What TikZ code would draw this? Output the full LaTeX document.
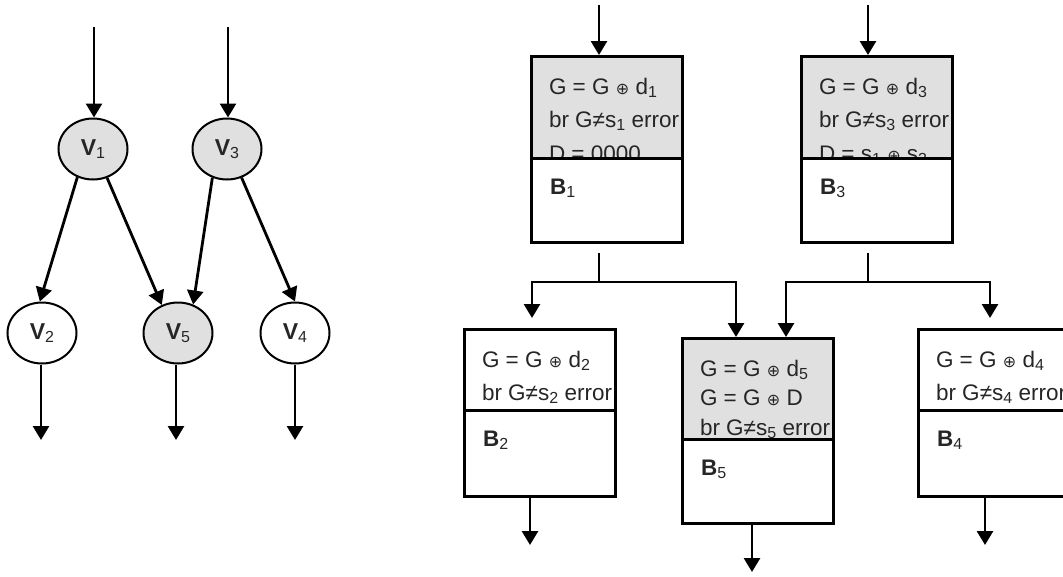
\documentclass[tikz,border=0pt]{standalone}
\usepackage{fontspec}
\setmainfont{Liberation Sans}
\newfontfamily\symf{DejaVu Sans}
\usetikzlibrary{shapes.geometric,arrows.meta,positioning}

\newcommand{\lo}[1]{\raisebox{-3pt}{\fontsize{16}{16}\selectfont\mdseries #1}}
\newcommand{\xo}{{\symf\fontsize{16}{16}\selectfont ⊕}}

\tikzset{
  vert/.style={ellipse, draw, line width=2pt, minimum width=69pt, minimum height=61pt, inner sep=0pt, text=black!85, font=\fontsize{23}{23}\selectfont\bfseries},
  used/.style={fill=black!12},
  arr/.style={line width=2.8pt, -{Triangle[width=16pt,length=14pt]}},
  wire/.style={line width=2.8pt},
  stmt/.style={draw, line width=3pt, anchor=north west, minimum width=151pt, minimum height=#1, inner sep=0pt},
  txt/.style={draw=none, fill=none, minimum width=0pt, minimum height=0pt, inner sep=0pt, text=black!85},
  stmts/.style={path picture={\node[txt, anchor=north west, align=left, font=\fontsize{22.5}{33.5}\selectfont] at ([xshift=16pt,yshift=-20pt]path picture bounding box.north west) {#1};}},
  bname/.style={path picture={\node[txt, anchor=base west, font=\fontsize{22.5}{22.5}\selectfont\bfseries] at ([xshift=17pt,yshift=-36pt]path picture bounding box.north west) {#1};}},
}

\begin{document}
\begin{tikzpicture}[x=1pt,y=-1pt]
\useasboundingbox (0,0) rectangle (1063,576);
% graph
\node[vert, used] (V1) at (93,149) {V\lo{1}};
\node[vert, used] (V3) at (227,149) {V\lo{3}};
\node[vert] (V2) at (42,333) {V\lo{2}};
\node[vert, used] (V5) at (178,333) {V\lo{5}};
\node[vert] (V4) at (295,333) {V\lo{4}};
\coordinate (i1) at (94,27);
\coordinate (i3) at (228,27);
\coordinate (o2) at (41,440);
\coordinate (o5) at (176,440);
\coordinate (o4) at (295,440);
\draw[arr] (i1) -- (i1 |- V1.north);
\draw[arr] (i3) -- (i3 |- V3.north);
\draw[arr] (V1.241) -- (V2.94);
\draw[arr] (V1.296) -- (V5.120);
\draw[arr] (V3.243) -- (V5.62);
\draw[arr] (V3.297) -- (V4.90);
\draw[arr] (o2 |- V2.south) -- (o2);
\draw[arr] (o5 |- V5.south) -- (o5);
\draw[arr] (o4 |- V4.south) -- (o4);

% blocks
\node[stmt=102pt, used, stmts={G = G \xo{} d\lo{1}\\ br G≠s\lo{1} error\\ D = 0000}] (B1a) at (530,55) {};
\node[stmt=84pt, bname={B\lo{1}}] (B1b) at (530,157) {};
\node[stmt=102pt, used, stmts={G = G \xo{} d\lo{3}\\ br G≠s\lo{3} error\\ D = s\lo{1} \xo{} s\lo{3}}] (B3a) at (800,55) {};
\node[stmt=84pt, bname={B\lo{3}}] (B3b) at (800,157) {};
\node[stmt=81pt, stmts={G = G \xo{} d\lo{2}\\ br G≠s\lo{2} error}] (B2a) at (463,328) {};
\node[stmt=86pt, bname={B\lo{2}}] (B2b) at (463,409) {};
\node[stmt=101pt, used, stmts={G = G \xo{} d\lo{5}\\[-4pt] G = G \xo{} D\\[-4pt] br G≠s\lo{5} error}] (B5a) at (681,337) {};
\node[stmt=84pt, bname={B\lo{5}}] (B5b) at (681,438) {};
\node[stmt=81pt, stmts={G = G \xo{} d\lo{4}\\ br G≠s\lo{4} error}] (B4a) at (917,328) {};
\node[stmt=86pt, bname={B\lo{4}}] (B4b) at (917,409) {};

\coordinate (t1) at (599,5);
\coordinate (t3) at (868,5);
\coordinate (j1) at (599,282);
\coordinate (j3) at (868,282);
\coordinate (e2) at (530,545);
\coordinate (e5) at (752,572);
\coordinate (e4) at (985,545);
\draw[arr] (t1) -- (t1 |- B1a.north);
\draw[arr] (t3) -- (t3 |- B3a.north);
\draw[wire, shorten <=9pt] (j1 |- B1b.south) -- (j1);
\draw[wire, shorten <=9pt] (j3 |- B3b.south) -- (j3);
\draw[arr, shorten >=10pt] (j1) -| ([xshift=-8pt]B2a.north);
\draw[arr] (j1) -| ([xshift=-22pt]B5a.north);
\draw[arr] (j3) -| ([xshift=28pt]B5a.north);
\draw[arr, shorten >=10pt] (j3) -| ([xshift=-4pt]B4a.north);
\draw[arr] (e2 |- B2b.south) -- (e2);
\draw[arr] (e5 |- B5b.south) -- (e5);
\draw[arr] (e4 |- B4b.south) -- (e4);
\end{tikzpicture}
\end{document}
